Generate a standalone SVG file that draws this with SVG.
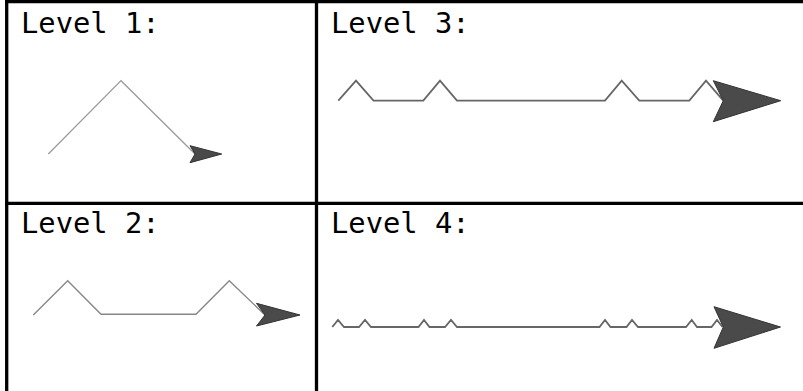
<svg xmlns="http://www.w3.org/2000/svg" width="803" height="391" viewBox="0 0 803 391">
<style>
.lbl{font-family:"DejaVu Sans Mono","Liberation Mono",monospace;font-size:28.8px;fill:#000}
.grid{stroke:#000;stroke-width:3.3;fill:none}
.curve{fill:none;stroke-linejoin:miter;stroke-linecap:butt}
.head{fill:#4a4a4a;stroke:#333;stroke-width:1;stroke-linejoin:miter}
</style>
<rect width="803" height="391" fill="#fff"/>
<g id="table" class="grid">
<line x1="5" y1="1.7" x2="803" y2="1.7"/>
<line x1="6.7" y1="0" x2="6.7" y2="391"/>
<line x1="316.5" y1="0" x2="316.5" y2="391"/>
<line x1="5" y1="203.3" x2="803" y2="203.3"/>
</g>
<g id="level1">
<text class="lbl" x="21" y="33">Level 1:</text>
<path class="curve" stroke="#999" stroke-width="1.2" d="M48.3,154 L121,80.7 L195,154"/>
<polygon class="head" points="190,145.7 221.7,154 190,162.7 195,154"/>
</g>
<g id="level3">
<text class="lbl" x="331" y="33">Level 3:</text>
<path class="curve" stroke="#666" stroke-width="1.8" d="M338.3,100.7 L356,80.7 L373.5,100.7 L423.3,100.7 L440,80.7 L457,100.7 L605,100.7 L621.7,80.7 L639.3,100.7 L689.3,100.7 L706,80.7 L723.3,100.7"/>
<polygon class="head" points="713.3,80.7 780.7,100.7 713.3,121.7 723.3,100.7"/>
</g>
<g id="level2">
<text class="lbl" x="21" y="233">Level 2:</text>
<path class="curve" stroke="#888" stroke-width="1.4" d="M33.3,315 L67.7,280.7 L101,314.3 L196,314.3 L229.3,280.7 L265,315"/>
<polygon class="head" points="256.5,303.3 300,315 256.5,326 265,315"/>
</g>
<g id="level4">
<text class="lbl" x="331" y="233">Level 4:</text>
<path class="curve" stroke="#666" stroke-width="1.8" d="M332.3,327 L338,320 L344,327 L359,327 L365,320 L371,327 L418.5,327 L424,320 L429.5,327 L445,327 L451,320 L457,327 L599.5,327 L605,320 L610.5,327 L626.5,327 L632,320 L638,327 L686,327 L691.7,320 L697,327 L711.5,327 L717,320 L722.5,327"/>
<polygon class="head" points="714,306.7 780.5,327 714,348.3 723.3,327"/>
</g>
</svg>
